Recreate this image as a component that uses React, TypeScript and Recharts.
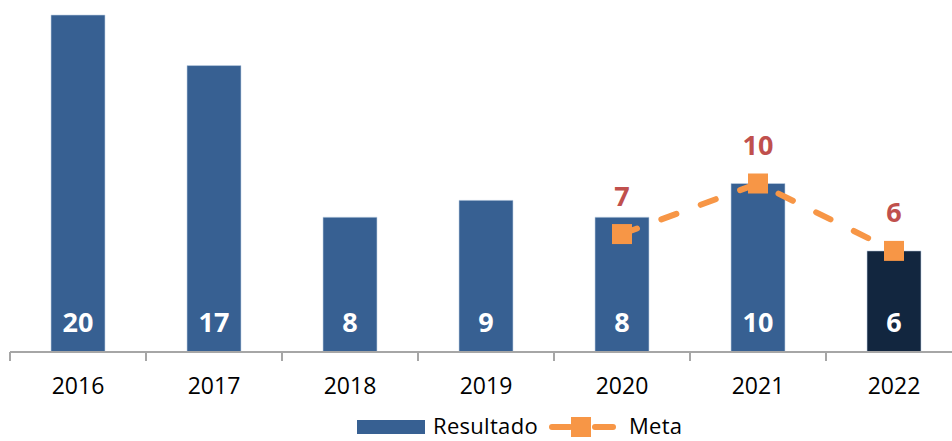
import React from 'react';
import { ComposedChart, Bar, Line, XAxis, YAxis, Cell, LabelList, Legend } from 'recharts';

const years = ['2016', '2017', '2018', '2019', '2020', '2021', '2022'];
const resultado = [20, 17, 8, 9, 8, 10, 6];
const meta: (number | null)[] = [null, null, null, null, 7, 10, 6];

const data = years.map((y, i) => ({ year: y, resultado: resultado[i], meta: meta[i] }));

const FONT = '"Open Sans", sans-serif';
const BAR = '#376092';
const BAR_LAST = '#12263F';
const ORANGE = '#F79646';
const RED = '#C0504D';
const BANDS = years.length;
const PLOT_W = 952 - 10 + 10;

const AxisTick = (props: any) => {
  const { x, y, payload } = props;
  const bw = PLOT_W / BANDS;
  return (
    <g>
      <line x1={x - bw / 2} x2={x - bw / 2} y1={y - 8} y2={y + 1} stroke="#A6A6A6" strokeWidth={2} />
      <text x={x} y={y + 25} textAnchor="middle" dominantBaseline="central" fontFamily={FONT} fontSize={23} fill="#000">
        {payload.value}
      </text>
    </g>
  );
};

const BarValue = (props: any) => {
  const { x, y, width, height, value } = props;
  return (
    <text x={x + width / 2} y={y + height - 31} textAnchor="middle" dominantBaseline="central" fontFamily={FONT} fontWeight="bold" fontSize={27} fill="#fff">
      {value}
    </text>
  );
};

const MetaValue = (props: any) => {
  const { x, y, value } = props;
  if (value == null) return null;
  return (
    <text x={x} y={y - 39} textAnchor="middle" dominantBaseline="central" fontFamily={FONT} fontWeight="bold" fontSize={27} fill={RED}>
      {value}
    </text>
  );
};

const SquareDot = (props: any) => {
  const { cx, cy, value } = props;
  if (value == null || cx == null || cy == null) return null;
  return <rect x={cx - 10} y={cy - 10} width={20} height={20} fill={ORANGE} />;
};

const LegendContent = () => (
  <div style={{ display: 'flex', alignItems: 'center', justifyContent: 'flex-start', paddingLeft: 347, marginTop: -1, boxSizing: 'border-box', fontFamily: FONT, fontSize: 22, color: '#000', height: 30 }}>
    <span style={{ display: 'inline-block', width: 68, height: 14, background: BAR, marginRight: 8, marginTop: 3 }} />
    <span style={{ marginRight: 11, letterSpacing: 0.3 }}>Resultado</span>
    <svg width={68} height={22} style={{ marginRight: 12, marginTop: 3, display: 'block' }}>
      <line x1={3} x2={21} y1={11} y2={11} stroke={ORANGE} strokeWidth={6} strokeLinecap="round" />
      <line x1={46} x2={64} y1={11} y2={11} stroke={ORANGE} strokeWidth={6} strokeLinecap="round" />
      <rect x={22} y={1} width={20} height={20} fill={ORANGE} />
    </svg>
    <span style={{ letterSpacing: 0.3 }}>Meta</span>
  </div>
);

export default function App() {
  return (
    <div style={{ position: 'absolute', left: 0, top: 0, width: 952, height: 441, background: '#fff', overflow: 'hidden' }}>
      <ComposedChart width={952} height={441} data={data} margin={{ top: 15, right: -10, bottom: 0, left: 10 }}>
        <XAxis
          dataKey="year"
          height={59}
          axisLine={{ stroke: '#A6A6A6', strokeWidth: 2 }}
          tickLine={false}
          tick={<AxisTick />}
          interval={0}
        />
        <YAxis hide domain={[0, 20]} />
        <Legend verticalAlign="bottom" height={30} content={<LegendContent />} />
        <Bar dataKey="resultado" barSize={54} isAnimationActive={false} stroke="#C5D3E6" strokeWidth={0.6}>
          {data.map((d, i) => (
            <Cell key={d.year} fill={i === data.length - 1 ? BAR_LAST : BAR} />
          ))}
          <LabelList dataKey="resultado" content={<BarValue />} />
        </Bar>
        <Line
          dataKey="meta"
          stroke={ORANGE}
          strokeWidth={6}
          strokeLinecap="round"
          strokeDasharray="16 26"
          dot={<SquareDot />}
          activeDot={false}
          isAnimationActive={false}
          connectNulls={false}
        >
          <LabelList dataKey="meta" content={<MetaValue />} />
        </Line>
      </ComposedChart>
    </div>
  );
}
